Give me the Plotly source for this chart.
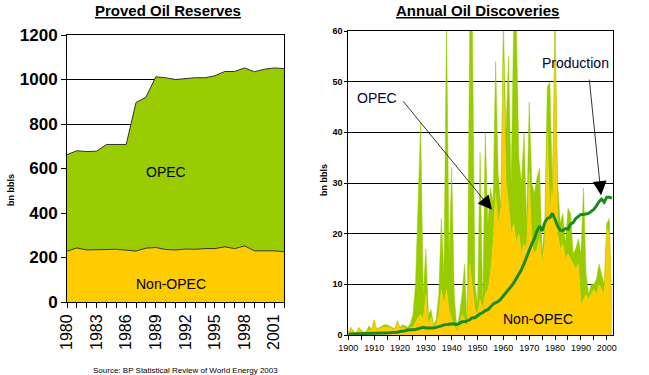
import plotly.graph_objects as go

# ---------------- Left chart: Proved Oil Reserves ----------------
res_years = list(range(1980, 2003))
res_non_opec = [228, 243, 234, 235, 235, 237, 233, 229, 242, 245, 236, 234,
                238, 237, 240, 240, 248, 240, 252, 230, 230, 230, 226]
res_total = [662, 680, 676, 678, 708, 708, 708, 897, 920, 1012, 1008, 1000,
             1005, 1008, 1008, 1017, 1036, 1036, 1052, 1035, 1046, 1052, 1049]
res_tick_years = [1980, 1983, 1986, 1989, 1992, 1995, 1998, 2001]

# ---------------- Right chart: Annual Oil Discoveries ----------------
disc_years = list(range(1900, 2003))
disc_total = [
    0.5, 1.5, 0.8, 0.3, 1.5, 1.0, 0.5, 0.8, 1.8, 1.2,      # 1900s
    3.0, 1.2, 1.5, 1.8, 2.0, 2.0, 1.8, 1.5, 1.2, 2.8,      # 1910s
    1.5, 2.0, 1.8, 1.5, 2.2, 4.0, 10, 25, 42, 8,           # 1920s
    17, 4, 5, 2, 3, 8, 23, 12, 62, 15,                     # 1930s
    33, 8, 1, 4, 8, 14, 2, 62, 62, 10,                     # 1940s
    6, 36, 6, 40, 22, 29, 26, 54, 32, 25,                  # 1950s
    62, 40, 55, 30, 62, 62, 35, 30, 40, 22,                # 1960s
    46, 30, 28, 31, 33, 16, 22, 49, 50, 28,                # 1970s
    62, 30, 22, 24, 18, 25, 24, 16, 17, 19,                # 1980s
    16, 29, 12, 8, 10, 10, 11, 14, 12, 10,                 # 1990s
    22, 23, 5                                              # 2000s
]
disc_non_opec = [
    0.5, 1.5, 0.8, 0.3, 1.3, 1.0, 0.5, 0.6, 1.0, 1.0,
    3.0, 1.0, 1.2, 1.5, 1.5, 1.5, 1.5, 1.2, 1.0, 2.8,
    1.2, 1.5, 1.2, 1.0, 1.5, 1.5, 2.5, 3.5, 4.0, 3.0,
    8.0, 2.0, 3.5, 1.5, 2.0, 4.0, 9.0, 6.0, 9.0, 5.0,
    3.0, 2.0, 0.8, 2.0, 4.0, 3.0, 1.5, 14, 10, 5,
    4, 7, 5, 8, 9, 12, 18, 28, 22, 25,
    54, 30, 26, 20, 22, 18, 20, 16, 18, 17,
    32, 18, 16, 17, 19, 14, 18, 40, 24, 30,
    60, 20, 17, 18, 15, 16, 15, 14, 13, 14,
    6, 7, 8, 7, 8, 9, 8, 10, 9, 8,
    21, 20, 4
]
production = [
    0.2, 0.2, 0.2, 0.2, 0.25, 0.25, 0.25, 0.3, 0.3, 0.3,
    0.33, 0.35, 0.35, 0.38, 0.4, 0.43, 0.45, 0.5, 0.5, 0.55,
    0.7, 0.75, 0.85, 1.0, 1.0, 1.05, 1.1, 1.25, 1.3, 1.5,
    1.4, 1.4, 1.3, 1.4, 1.5, 1.6, 1.8, 2.0, 2.0, 2.1,
    2.2, 2.2, 2.1, 2.3, 2.6, 2.6, 2.8, 3.0, 3.4, 3.4,
    3.8, 4.2, 4.4, 4.8, 5.0, 5.6, 6.1, 6.4, 6.6, 7.1,
    7.7, 8.2, 8.9, 9.6, 10.3, 11.1, 12.0, 12.9, 14.1, 15.4,
    17.0, 18.0, 19.0, 20.5, 21.5, 20.5, 22.2, 23.0, 23.2, 24.0,
    22.8, 21.5, 20.7, 20.6, 21.0, 20.9, 21.9, 22.2, 23.0, 23.4,
    23.8, 23.8, 23.9, 24.0, 24.4, 24.8, 25.5, 26.3, 26.8, 26.2,
    27.2, 27.2, 27.0
]
disc_tick_years = list(range(1900, 2001, 5))

GREEN = "#99CC00"
YELLOW = "#FFCC00"
PROD = "#1C8A1C"
FONT = "Liberation Sans, Arial, sans-serif"

W, H = 649, 375


def px(xp):
    return xp / W


def py(yp):
    return 1 - yp / H


fig = go.Figure()

# Left chart traces
fig.add_trace(go.Scatter(x=res_years, y=res_non_opec, mode="lines",
                         line=dict(color="#333333", width=1),
                         fill="tozeroy", fillcolor=YELLOW,
                         xaxis="x", yaxis="y", showlegend=False))
fig.add_trace(go.Scatter(x=res_years, y=res_total, mode="lines",
                         line=dict(color="#333333", width=1),
                         fill="tonexty", fillcolor=GREEN,
                         xaxis="x", yaxis="y", showlegend=False))

# Right chart traces
fig.add_trace(go.Scatter(x=disc_years, y=disc_non_opec, mode="lines",
                         line=dict(color=YELLOW, width=0.5),
                         fill="tozeroy", fillcolor=YELLOW,
                         xaxis="x2", yaxis="y2", showlegend=False))
fig.add_trace(go.Scatter(x=disc_years, y=disc_total, mode="lines",
                         line=dict(color=GREEN, width=0.5),
                         fill="tonexty", fillcolor=GREEN,
                         xaxis="x2", yaxis="y2", showlegend=False))
fig.add_trace(go.Scatter(x=disc_years, y=production, mode="lines",
                         line=dict(color=PROD, width=3),
                         xaxis="x2", yaxis="y2", showlegend=False))

axis_common = dict(showline=True, linecolor="black", linewidth=1, mirror=True,
                   zeroline=False, ticks="outside", tickcolor="black",
                   automargin=False)

fig.update_layout(
    width=W, height=H,
    margin=dict(l=0, r=0, t=0, b=0, autoexpand=False),
    paper_bgcolor="white", plot_bgcolor="white",
    font=dict(family=FONT, color="black"),
    xaxis=dict(domain=[px(67), px(284)], range=[1980, 2002],
               tickvals=res_years,
               ticktext=[str(y) if y in res_tick_years else "" for y in res_years],
               tickangle=-90, ticklen=5,
               tickfont=dict(size=16),
               showgrid=False, anchor="y", **axis_common),
    yaxis=dict(domain=[py(302), py(35)], range=[0, 1200], dtick=200,
               ticklen=5, tickfont=dict(size=17),
               showgrid=True, gridcolor="black", gridwidth=1,
               anchor="x", **axis_common),
    xaxis2=dict(domain=[px(348.3), px(612.7)], range=[1900, 2002.3],
                tickvals=disc_tick_years,
                ticktext=[str(y) if y % 10 == 0 else "" for y in disc_tick_years],
                tickangle=0, ticklen=4,
                tickfont=dict(size=9),
                showgrid=False, anchor="y2", **axis_common),
    yaxis2=dict(domain=[py(335), py(31)], range=[0, 60], dtick=10,
                ticklen=3, tickfont=dict(size=9),
                showgrid=True, gridcolor="black", gridwidth=1,
                anchor="x2", **axis_common),
)

fig.update_xaxes(tickprefix="<b>", ticksuffix="</b>")
fig.update_yaxes(tickprefix="<b>", ticksuffix="</b>")

paper_txt = dict(xref="paper", yref="paper", xanchor="center", yanchor="middle",
                 showarrow=False)
annotations = [
    dict(text="<b><u>Proved Oil Reserves</u></b>", x=px(168), y=py(11),
         font=dict(size=15), **paper_txt),
    dict(text="<b><u>Annual Oil Discoveries</u></b>", x=px(477), y=py(11),
         font=dict(size=15), **paper_txt),
    dict(text="<b>bn bbls</b>", x=px(11), y=py(190), textangle=-90,
         font=dict(size=9), **paper_txt),
    dict(text="<b>bn bbls</b>", x=px(324), y=py(180), textangle=-90,
         font=dict(size=9), **paper_txt),
    dict(text="Source: BP Statistical Review of World Energy 2003",
         x=px(186), y=py(370), font=dict(size=8), **paper_txt),
    dict(text="OPEC", xref="x", yref="y", x=1990, y=584, showarrow=False,
         font=dict(size=14)),
    dict(text="Non-OPEC", xref="x", yref="y", x=1990.5, y=80, showarrow=False,
         font=dict(size=14)),
    dict(text="Non-OPEC", xref="x2", yref="y2", x=1973.4, y=3.2, showarrow=False,
         font=dict(size=14)),
    dict(text="OPEC", xref="x2", yref="y2", x=1911, y=46.8, showarrow=False,
         font=dict(size=14, color="#000033")),
    dict(text="Production", xref="x2", yref="y2", x=1987.8, y=53.7, showarrow=False,
         font=dict(size=14, color="#000033")),
    dict(text="", xref="x2", yref="y2", x=1955.6, y=24.7,
         axref="x2", ayref="y2", ax=1920.8, ay=46.4,
         showarrow=True, arrowhead=2, arrowsize=3.5, arrowwidth=0.8, arrowcolor="black"),
    dict(text="", xref="x2", yref="y2", x=1997.8, y=27.6,
         axref="x2", ayref="y2", ax=1993.2, ay=50.7,
         showarrow=True, arrowhead=2, arrowsize=3.5, arrowwidth=0.8, arrowcolor="black"),
]
fig.update_layout(annotations=annotations)

fig.write_html("out.html",
               config={"displayModeBar": False},
               post_script="document.body.style.margin='0';"
                           "document.body.style.padding='0';")
